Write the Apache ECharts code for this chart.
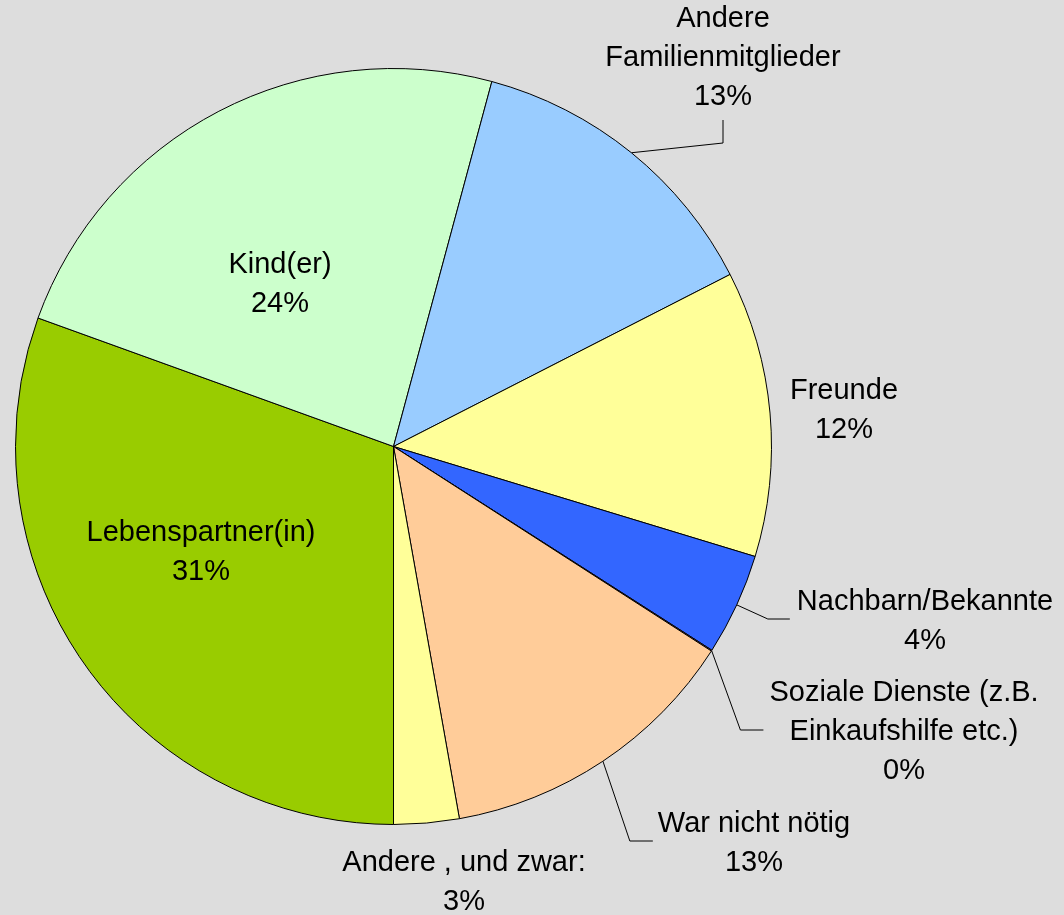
<!DOCTYPE html>
<html>
<head>
<meta charset="utf-8">
<title>Pie</title>
<script src="https://cdn.jsdelivr.net/npm/echarts@6/dist/echarts.min.js"></script>
<style>
    html, body { margin: 0; padding: 0; background: #dddddd; }
    #main { width: 1064px; height: 915px; }
</style>
</head>
<body>
<div id="main"></div>
<script>
// ---- data ----
var categories = [
    "Lebenspartner(in)",
    "Kind(er)",
    "Andere\nFamilienmitglieder",
    "Freunde",
    "Nachbarn/Bekannte",
    "Soziale Dienste (z.B.\nEinkaufshilfe etc.)",
    "War nicht nötig",
    "Andere , und zwar:"
];
var shares = [30.52, 23.67, 13.29, 12.22, 4.36, 0.04, 13.11, 2.79];

// ---- styles ----
var sliceColors = ["#99cc00", "#ccffcc", "#99ccff", "#ffff99", "#3366ff", "#ff99cc", "#ffcc99", "#ffff99"];

// label centre + leader line shape (guide: which side of the text the line enters)
var labelSpots = [
    { x: 201, y: 552 },
    { x: 280, y: 284 },
    { x: 723, y: 58, guide: "bottom", gap: 3.5, len: 23 },
    { x: 844, y: 410 },
    { x: 925, y: 621, guide: "left", gap: 7, len: 22 },
    { x: 904, y: 732, guide: "left", gap: 6, len: 23 },
    { x: 754, y: 843, guide: "left", gap: 5, len: 23 },
    { x: 464, y: 882 }
];

var chart = echarts.init(document.getElementById("main"));

var pieData = categories.map(function (name, i) {
    var item = { name: name, value: shares[i], itemStyle: { color: sliceColors[i] } };
    if (!labelSpots[i].guide) item.labelLine = { show: false };
    return item;
});

chart.setOption({
    backgroundColor: "#dddddd",
    animation: false,
    series: [{
        type: "pie",
        center: [393.5, 446.5],
        radius: 378,
        startAngle: 270,
        clockwise: true,
        avoidLabelOverlap: false,
        percentPrecision: 2,
        itemStyle: { borderColor: "#000000", borderWidth: 1 },
        emphasis: { disabled: true },
        label: {
            show: true,
            position: "outside",
            color: "#000000",
            fontFamily: "Liberation Sans, Arial, sans-serif",
            fontSize: 29,
            lineHeight: 39,
            align: "center",
            formatter: function (p) {
                return p.name + "\n" + Math.round(p.percent) + "%";
            }
        },
        labelLine: { show: true, length: 20, length2: 20, lineStyle: { color: "#000000", width: 1 } },
        labelLayout: function (p) {
            var s = labelSpots[p.dataIndex];
            var out = { x: s.x, y: s.y, align: "center", verticalAlign: "middle" };
            if (s.guide && p.labelLinePoints) {
                var a = p.labelLinePoints[0];
                var w = p.labelRect.width, h = p.labelRect.height;
                if (s.guide === "bottom") {
                    var b = s.y + h / 2 + s.gap;
                    out.labelLinePoints = [[a[0], a[1]], [s.x, b + s.len], [s.x, b]];
                } else {
                    var l = s.x - w / 2 - s.gap;
                    var yy = s.y - 2;
                    out.labelLinePoints = [[a[0], a[1]], [l - s.len, yy], [l, yy]];
                }
            }
            return out;
        },
        data: pieData
    }]
});
</script>
</body>
</html>
